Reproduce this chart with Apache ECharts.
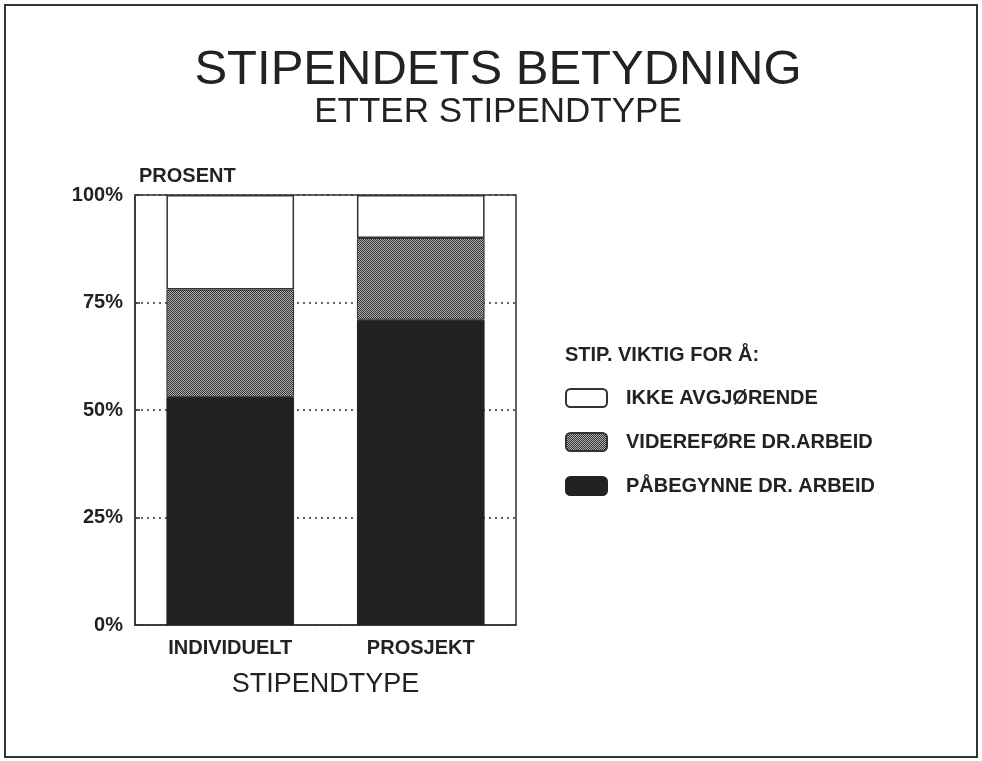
<!DOCTYPE html>
<html>
<head>
<meta charset="utf-8">
<script src="https://cdn.jsdelivr.net/npm/echarts@6/dist/echarts.min.js"></script>
<style>
  html, body { margin: 0; padding: 0; background: #fff; }
  #chart { width: 982px; height: 761px; }
</style>
</head>
<body>
<div id="chart"></div>
<script>
  const categories = ['INDIVIDUELT', 'PROSJEKT']
  const paabegynne = [53, 71]
  const videreføre = [25, 19]
  const ikkeAvgjorende = [22, 10]
  const yTicks = [0, 25, 50, 75, 100]

  const FONT = '"Liberation Sans", Arial, sans-serif'
  const INK = '#222'

  // lite rastermønster for den grå serien
  function makePattern () {
    const c = document.createElement('canvas')
    c.width = 4
    c.height = 4
    const ctx = c.getContext('2d')
    ctx.fillStyle = '#b0b0b0'
    ctx.fillRect(0, 0, 4, 4)
    ctx.fillStyle = '#333'
    for (let i = 0; i < 4; i++) {
      ctx.fillRect(i, i % 4, 1, 1)
      ctx.fillRect(i, (i + 2) % 4, 1, 1)
    }
    return c
  }
  const grey = { image: makePattern(), repeat: 'repeat' }

  const chart = echarts.init(document.getElementById('chart'))
  const option = {
    backgroundColor: '#fff',
    animation: false,
    textStyle: { fontFamily: FONT, color: INK },
    title: [
      {
        text: 'STIPENDETS BETYDNING',
        left: 493, top: 41, textAlign: 'center',
        textStyle: { fontSize: 49, fontWeight: 'normal', color: INK, fontFamily: FONT }
      },
      {
        text: 'ETTER STIPENDTYPE',
        left: 493, top: 90, textAlign: 'center',
        textStyle: { fontSize: 35, fontWeight: 'normal', color: INK, fontFamily: FONT }
      },
      {
        text: 'PROSENT',
        left: 134, top: 161,
        textStyle: { fontSize: 20, fontWeight: 'bold', color: INK, fontFamily: FONT }
      },
      {
        text: 'STIP. VIKTIG FOR Å:',
        left: 560, top: 340,
        textStyle: { fontSize: 20, fontWeight: 'bold', color: INK, fontFamily: FONT }
      }
    ],
    legend: {
      orient: 'vertical',
      left: 560, top: 383,
      itemWidth: 41, itemHeight: 18,
      itemGap: 24,
      icon: 'roundRect',
      data: ['IKKE AVGJØRENDE', 'VIDEREFØRE DR.ARBEID', 'PÅBEGYNNE DR. ARBEID'],
      textStyle: { fontSize: 20, fontWeight: 'bold', color: INK, fontFamily: FONT, padding: [0, 0, 0, 14] }
    },
    grid: {
      left: 135, right: 466, top: 195, bottom: 136,
      show: true, borderColor: '#333', borderWidth: 1.5, backgroundColor: '#fff'
    },
    xAxis: {
      type: 'category',
      data: categories,
      axisLine: { lineStyle: { color: '#333', width: 1.5 } },
      axisTick: { show: false },
      axisLabel: { fontSize: 20, fontWeight: 'bold', color: INK, margin: 13, fontFamily: FONT },
      name: 'STIPENDTYPE',
      nameLocation: 'middle',
      nameGap: 46,
      nameTextStyle: { fontSize: 27, color: INK, fontFamily: FONT }
    },
    yAxis: {
      type: 'value',
      min: yTicks[0], max: yTicks[yTicks.length - 1], interval: 25,
      axisLine: { show: true, lineStyle: { color: '#333', width: 1.5 } },
      axisTick: { show: true, inside: true, length: 5, lineStyle: { color: '#333', width: 1.5 } },
      axisLabel: { formatter: '{value}%', fontSize: 20, fontWeight: 'bold', color: INK, margin: 12, fontFamily: FONT },
      splitLine: { show: true, lineStyle: { type: [2, 4], color: '#333', width: 1.5 } }
    },
    series: [
      {
        name: 'PÅBEGYNNE DR. ARBEID',
        type: 'bar', stack: 'tot', barWidth: '67%',
        data: paabegynne,
        itemStyle: { color: '#222', borderColor: '#222', borderWidth: 1 }
      },
      {
        name: 'VIDEREFØRE DR.ARBEID',
        type: 'bar', stack: 'tot',
        data: videreføre,
        itemStyle: { color: grey, borderColor: '#333', borderWidth: 1 }
      },
      {
        name: 'IKKE AVGJØRENDE',
        type: 'bar', stack: 'tot',
        data: ikkeAvgjorende,
        itemStyle: { color: '#fff', borderColor: '#333', borderWidth: 1.5 }
      }
    ],
    graphic: [
      {
        type: 'rect',
        shape: { x: 5, y: 5, width: 972, height: 752 },
        style: { fill: 'none', stroke: '#333', lineWidth: 2 },
        silent: true
      }
    ]
  }
  chart.setOption(option)
</script>
</body>
</html>
